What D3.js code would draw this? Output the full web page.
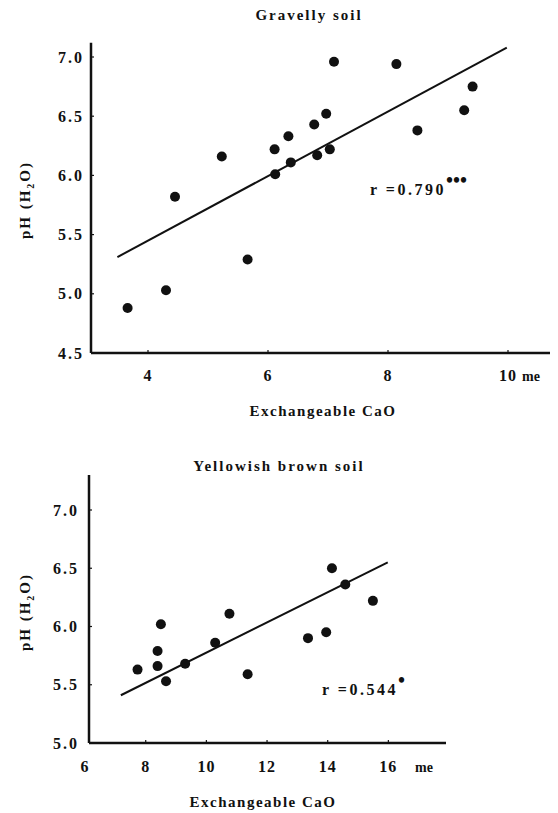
<!DOCTYPE html>
<html lang="en">
<head>
  <meta charset="UTF-8">
  <title>pH vs Exchangeable CaO</title>
  <style>
    body {
      margin: 0;
      background: #fff;
    }
    svg text {
      font-family: 'Liberation Serif', 'DejaVu Serif', serif;
      font-weight: bold;
      fill: #111;
    }
  </style>
</head>
<body>
  <div id="chart"></div>

  <script src="https://d3js.org/d3.v7.min.js"></script>

  <script>
    // Gravelly soil
    const gravelCaO = [3.66, 4.30, 4.45, 5.23, 5.66, 6.11, 6.12, 6.34, 6.38, 6.77, 6.82, 6.97, 7.03, 7.10, 8.14, 8.49, 9.27, 9.41];
    const gravelPH  = [4.88, 5.03, 5.82, 6.16, 5.29, 6.22, 6.01, 6.33, 6.11, 6.43, 6.17, 6.52, 6.22, 6.96, 6.94, 6.38, 6.55, 6.75];
    const gravelFitX = [3.49, 9.98];
    const gravelFitY = [5.31, 7.08];
    const gravelXTicks = [4, 6, 8, 10];
    const gravelYTicks = [4.5, 5.0, 5.5, 6.0, 6.5, 7.0];

    // Yellowish brown soil
    const brownCaO = [7.73, 8.39, 8.39, 8.50, 8.67, 9.30, 10.29, 10.76, 11.36, 13.35, 13.95, 14.14, 14.58, 15.49];
    const brownPH  = [5.63, 5.66, 5.79, 6.02, 5.53, 5.68, 5.86, 6.11, 5.59, 5.90, 5.95, 6.50, 6.36, 6.22];
    const brownFitX = [7.18, 15.98];
    const brownFitY = [5.41, 6.55];
    const brownXTicks = [6, 8, 10, 12, 14, 16];
    const brownYTicks = [5.0, 5.5, 6.0, 6.5, 7.0];

    const width = 558;
    const height = 813;

    const svg = d3.select("#chart")
      .append("svg")
      .attr("width", width)
      .attr("height", height);

    function drawPanel(p) {
      const x = d3.scaleLinear().domain(p.xDomain).range(p.xRange);
      const y = d3.scaleLinear().domain(p.yDomain).range(p.yRange);
      const g = svg.append("g");

      const x0 = x(p.xDomain[0]);
      const y0 = y(p.yDomain[0]);

      // axis lines
      g.append("line")
        .attr("x1", x0).attr("x2", x0)
        .attr("y1", y(p.yTop)).attr("y2", y0)
        .attr("stroke", "#111").attr("stroke-width", 2.5);
      g.append("line")
        .attr("x1", x0).attr("x2", x(p.xEnd))
        .attr("y1", y0).attr("y2", y0)
        .attr("stroke", "#111").attr("stroke-width", 2.5);

      // ticks
      g.selectAll("line.xt")
        .data(p.xTicks.filter(d => d > p.xDomain[0]))
        .join("line")
        .attr("x1", d => x(d)).attr("x2", d => x(d))
        .attr("y1", y0 - 3).attr("y2", y0 + 1)
        .attr("stroke", "#111").attr("stroke-width", 1.2);
      g.selectAll("line.yt")
        .data(p.yTicks.filter(d => d > p.yDomain[0]))
        .join("line")
        .attr("x1", x0).attr("x2", x0 + 3)
        .attr("y1", d => y(d)).attr("y2", d => y(d))
        .attr("stroke", "#111").attr("stroke-width", 1.2);

      // tick labels
      g.selectAll("text.xl")
        .data(p.xTicks)
        .join("text")
        .attr("x", d => x(d))
        .attr("y", p.xLabelY)
        .attr("text-anchor", "middle")
        .style("font-size", "16px")
        .style("letter-spacing", "1px")
        .text(d => d);
      g.append("text")
        .attr("x", p.unitX)
        .attr("y", p.xLabelY)
        .style("font-size", "14px")
        .text("me");

      g.selectAll("text.yl")
        .data(p.yTicks)
        .join("text")
        .attr("x", p.yLabelX)
        .attr("y", d => y(d))
        .attr("dy", "0.35em")
        .attr("text-anchor", "end")
        .style("font-size", "16px")
        .style("letter-spacing", "2px")
        .text(d => d.toFixed(1));

      // regression line
      g.append("line")
        .attr("x1", x(p.fitX[0])).attr("y1", y(p.fitY[0]))
        .attr("x2", x(p.fitX[1])).attr("y2", y(p.fitY[1]))
        .attr("stroke", "#111").attr("stroke-width", 2);

      // points
      g.selectAll("circle")
        .data(p.xs.map((v, i) => [v, p.ys[i]]))
        .join("circle")
        .attr("cx", d => x(d[0]))
        .attr("cy", d => y(d[1]))
        .attr("r", 5)
        .attr("fill", "#111");

      // titles
      g.append("text")
        .attr("x", p.titleX).attr("y", p.titleY)
        .attr("text-anchor", "middle")
        .style("font-size", "15px")
        .style("letter-spacing", "2px")
        .text(p.title);
      g.append("text")
        .attr("x", p.xTitleX).attr("y", p.xTitleY)
        .attr("text-anchor", "middle")
        .style("font-size", "15px")
        .style("letter-spacing", "1.5px")
        .text("Exchangeable CaO");

      const yt = g.append("text")
        .attr("transform", `translate(${p.yTitleX},${p.yTitleY}) rotate(-90)`)
        .attr("text-anchor", "middle")
        .style("font-size", "15px")
        .style("letter-spacing", "2px");
      yt.append("tspan").text("pH  (H");
      yt.append("tspan").attr("dy", 4).style("font-size", "10px").text("2");
      yt.append("tspan").attr("dy", -4).text("O)");

      // correlation
      const rt = g.append("text")
        .attr("x", p.rX).attr("y", p.rY)
        .style("font-size", "16px")
        .style("letter-spacing", "2.5px");
      rt.append("tspan").text("r =0.");
      rt.append("tspan").text(p.r);
      rt.append("tspan").attr("dx", 0).attr("dy", -8).style("font-size", "20px")
        .style("letter-spacing", "0px").text(p.stars);
    }

    drawPanel({
      title: "Gravelly soil", titleX: 309, titleY: 20,
      xs: gravelCaO, ys: gravelPH, fitX: gravelFitX, fitY: gravelFitY,
      xTicks: gravelXTicks, yTicks: gravelYTicks,
      xDomain: [3.05, 10.7], xRange: [91, 550], xEnd: 10.7,
      yDomain: [4.5, 7.0], yRange: [353, 57], yTop: 7.12,
      xLabelY: 381, yLabelX: 84, unitX: 522,
      xTitleX: 323, xTitleY: 416,
      yTitleX: 30, yTitleY: 200,
      rX: 370, rY: 195, r: "790", stars: "•••"
    });

    drawPanel({
      title: "Yellowish brown soil", titleX: 279, titleY: 471,
      xs: brownCaO, ys: brownPH, fitX: brownFitX, fitY: brownFitY,
      xTicks: brownXTicks, yTicks: brownYTicks,
      xDomain: [6.13, 17.9], xRange: [89, 446], xEnd: 17.9,
      yDomain: [5.0, 7.0], yRange: [743, 510], yTop: 7.3,
      xLabelY: 772, yLabelX: 79, unitX: 415,
      xTitleX: 263, xTitleY: 807,
      yTitleX: 30, yTitleY: 612,
      rX: 322, rY: 695, r: "544", stars: "•"
    });
  </script>
</body>
</html>
